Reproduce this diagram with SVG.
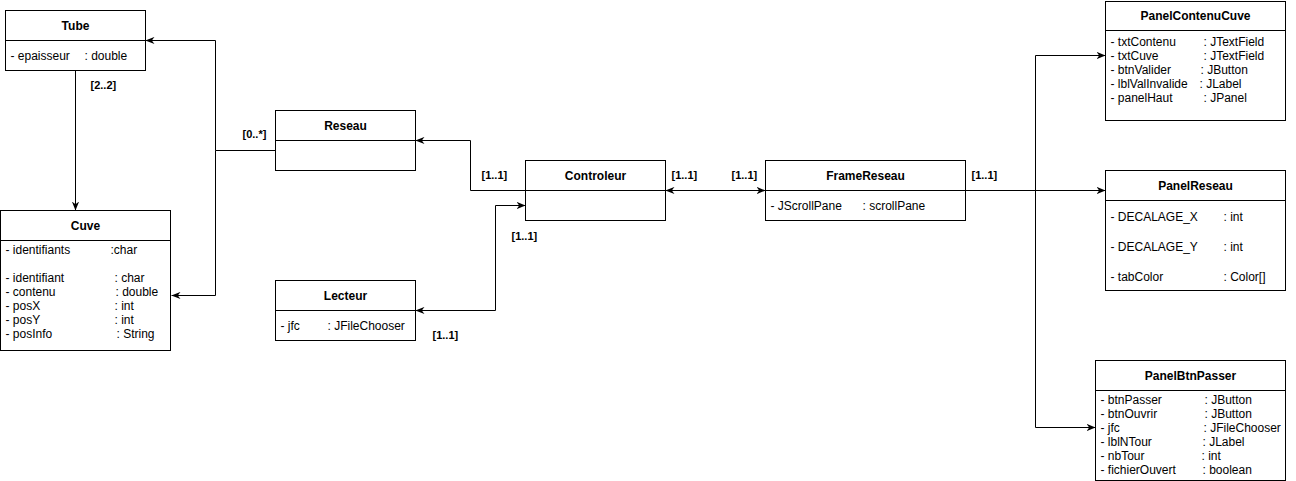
<svg xmlns="http://www.w3.org/2000/svg" width="1296" height="481" viewBox="0 0 1296 481">
<defs>
<marker id="arr" viewBox="0 0 10 8" refX="10" refY="4" markerWidth="9" markerHeight="8" orient="auto-start-reverse" markerUnits="userSpaceOnUse">
<path d="M0,0 L10,4 L0,8 L3,4 z" fill="#000"/>
</marker>
</defs>
<style>
.box{fill:#fff;stroke:#000;stroke-width:1}
.div{stroke:#000;stroke-width:1}
.t{font-family:"Liberation Sans",Arial,sans-serif;font-size:12px;font-weight:bold;text-anchor:middle;fill:#000}
.a{font-family:"Liberation Sans",Arial,sans-serif;font-size:12px;fill:#000}
.m{font-family:"Liberation Sans",Arial,sans-serif;font-size:11px;font-weight:bold;fill:#000}
.c{fill:none;stroke:#000;stroke-width:1}
</style>
<g transform="translate(0.5,0.5)">
<g id="connectors">
<path class="c" d="M215,150 L215,40 L145,40" marker-end="url(#arr)"/>
<path class="c" d="M275,150 L215,150 L215,295 L171,295" marker-end="url(#arr)"/>
<path class="c" d="M75,70 L75,210" marker-end="url(#arr)"/>
<path class="c" d="M525,190 L470,190 L470,140 L415,140" marker-end="url(#arr)"/>
<path class="c" d="M415,310 L495,310 L495,205 L525,205" marker-start="url(#arr)" marker-end="url(#arr)"/>
<path class="c" d="M665,190 L765,190" marker-start="url(#arr)" marker-end="url(#arr)"/>
<path class="c" d="M965,190 L1105,190" marker-end="url(#arr)"/>
<path class="c" d="M1035,190 L1035,55 L1105,55" marker-end="url(#arr)"/>
<path class="c" d="M1035,190 L1035,427 L1095,427" marker-end="url(#arr)"/>
<text class="m" x="90" y="88">[2..2]</text>
<text class="m" x="242" y="137">[0..*]</text>
<text class="m" x="481" y="178">[1..1]</text>
<text class="m" x="511" y="239">[1..1]</text>
<text class="m" x="432" y="338">[1..1]</text>
<text class="m" x="671" y="178">[1..1]</text>
<text class="m" x="731" y="178">[1..1]</text>
<text class="m" x="971" y="178">[1..1]</text>
</g>
<g id="Tube">
<rect class="box" x="5" y="10" width="140" height="60"/>
<line class="div" x1="5" y1="40" x2="145" y2="40"/>
<text class="t" x="75" y="29">Tube</text>
<text class="a" x="10" y="59">- epaisseur</text>
<text class="a" x="84" y="59">: double</text>
</g>
<g id="Cuve">
<rect class="box" x="0" y="210" width="170" height="140"/>
<line class="div" x1="0" y1="240" x2="170" y2="240"/>
<text class="t" x="85" y="229">Cuve</text>
<text class="a" x="5" y="253">- identifiants</text>
<text class="a" x="110" y="253">:char</text>
<text class="a" x="5" y="281">- identifiant</text>
<text class="a" x="114" y="281">: char</text>
<text class="a" x="5" y="295">- contenu</text>
<text class="a" x="115" y="295">: double</text>
<text class="a" x="5" y="309">- posX</text>
<text class="a" x="114" y="309">: int</text>
<text class="a" x="5" y="323">- posY</text>
<text class="a" x="114" y="323">: int</text>
<text class="a" x="5" y="337">- posInfo</text>
<text class="a" x="116" y="337">: String</text>
</g>
<g id="Reseau">
<rect class="box" x="275" y="110" width="140" height="60"/>
<line class="div" x1="275" y1="140" x2="415" y2="140"/>
<text class="t" x="345" y="129">Reseau</text>
</g>
<g id="Lecteur">
<rect class="box" x="275" y="280" width="140" height="60"/>
<line class="div" x1="275" y1="310" x2="415" y2="310"/>
<text class="t" x="345" y="299">Lecteur</text>
<text class="a" x="280" y="329">- jfc</text>
<text class="a" x="327" y="329">: JFileChooser</text>
</g>
<g id="Controleur">
<rect class="box" x="525" y="160" width="140" height="60"/>
<line class="div" x1="525" y1="190" x2="665" y2="190"/>
<text class="t" x="595" y="179">Controleur</text>
</g>
<g id="FrameReseau">
<rect class="box" x="765" y="160" width="200" height="60"/>
<line class="div" x1="765" y1="190" x2="965" y2="190"/>
<text class="t" x="865" y="179">FrameReseau</text>
<text class="a" x="770" y="209">- JScrollPane</text>
<text class="a" x="862" y="209">: scrollPane</text>
</g>
<g id="PanelContenuCuve">
<rect class="box" x="1105" y="1" width="180" height="119"/>
<line class="div" x1="1105" y1="30" x2="1285" y2="30"/>
<text class="t" x="1195" y="19">PanelContenuCuve</text>
<text class="a" x="1110" y="45">- txtContenu</text>
<text class="a" x="1203" y="45">: JTextField</text>
<text class="a" x="1110" y="59">- txtCuve</text>
<text class="a" x="1203" y="59">: JTextField</text>
<text class="a" x="1110" y="73">- btnValider</text>
<text class="a" x="1200" y="73">: JButton</text>
<text class="a" x="1110" y="87">- lblValInvalide</text>
<text class="a" x="1199" y="87">: JLabel</text>
<text class="a" x="1110" y="101">- panelHaut</text>
<text class="a" x="1203" y="101">: JPanel</text>
</g>
<g id="PanelReseau">
<rect class="box" x="1105" y="170" width="180" height="120"/>
<line class="div" x1="1105" y1="200" x2="1285" y2="200"/>
<text class="t" x="1195" y="189">PanelReseau</text>
<text class="a" x="1110" y="220">- DECALAGE_X</text>
<text class="a" x="1223" y="220">: int</text>
<text class="a" x="1110" y="250">- DECALAGE_Y</text>
<text class="a" x="1223" y="250">: int</text>
<text class="a" x="1110" y="280">- tabColor</text>
<text class="a" x="1223" y="280">: Color[]</text>
</g>
<g id="PanelBtnPasser">
<rect class="box" x="1095" y="360" width="190" height="120"/>
<line class="div" x1="1095" y1="390" x2="1285" y2="390"/>
<text class="t" x="1190" y="379">PanelBtnPasser</text>
<text class="a" x="1100" y="403">- btnPasser</text>
<text class="a" x="1204" y="403">: JButton</text>
<text class="a" x="1100" y="417">- btnOuvrir</text>
<text class="a" x="1204" y="417">: JButton</text>
<text class="a" x="1100" y="431">- jfc</text>
<text class="a" x="1203" y="431">: JFileChooser</text>
<text class="a" x="1100" y="445">- lblNTour</text>
<text class="a" x="1202" y="445">: JLabel</text>
<text class="a" x="1100" y="459">- nbTour</text>
<text class="a" x="1201" y="459">: int</text>
<text class="a" x="1100" y="473">- fichierOuvert</text>
<text class="a" x="1202" y="473">: boolean</text>
</g>
</g>
</svg>
